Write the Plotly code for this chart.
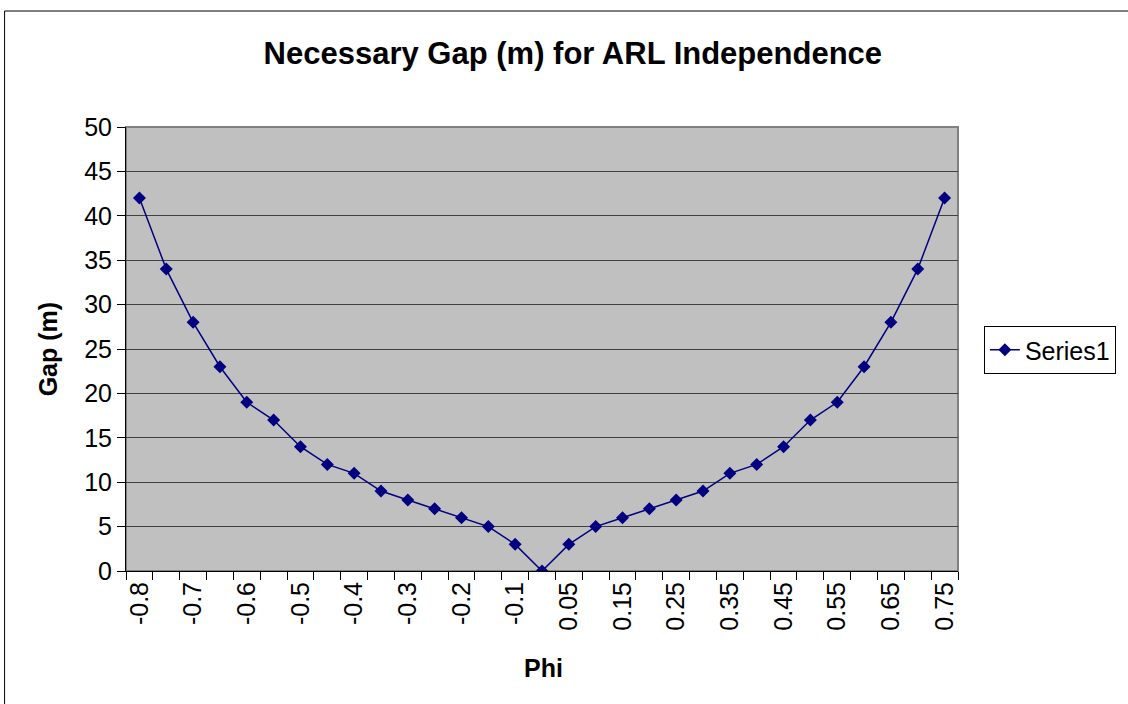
import plotly.graph_objects as go

phi_labels = ["-0.8", "-0.75", "-0.7", "-0.65", "-0.6", "-0.55", "-0.5", "-0.45",
              "-0.4", "-0.35", "-0.3", "-0.25", "-0.2", "-0.15", "-0.1", "0",
              "0.05", "0.1", "0.15", "0.2", "0.25", "0.3", "0.35", "0.4",
              "0.45", "0.5", "0.55", "0.6", "0.65", "0.7", "0.75"]
gap_values = [42, 34, 28, 23, 19, 17, 14, 12, 11, 9, 8, 7, 6, 5, 3, 0,
              3, 5, 6, 7, 8, 9, 11, 12, 14, 17, 19, 23, 28, 34, 42]
y_ticks = [0, 5, 10, 15, 20, 25, 30, 35, 40, 45, 50]

W, H = 1128, 704
L, R, T, B = 126, 962, 127, 571
pw, ph = R - L, B - T

idx = list(range(len(phi_labels)))
shown = idx[::2]

fig = go.Figure()
fig.add_trace(go.Scatter(
    x=idx, y=gap_values, mode="lines+markers", name="Series1",
    line=dict(color="#000080", width=1.5),
    marker=dict(symbol="diamond", size=10, color="#000080"),
))

font = "Liberation Sans, Arial, sans-serif"
FS = 25
fig.update_layout(
    width=W, height=H,
    margin=dict(l=L, r=W - R, t=T, b=H - B),
    paper_bgcolor="white", plot_bgcolor="rgba(0,0,0,0)",
    font=dict(family=font, size=FS, color="black"),
    title=dict(text="<b>Necessary Gap (m) for ARL Independence</b>",
               x=(575 - L) / pw, xref="paper", xanchor="center",
               y=1 - 53 / H, yanchor="middle",
               font=dict(size=31, family=font, color="black")),
    showlegend=True,
    legend=dict(x=(988 - L) / pw, xanchor="left", y=(B - 350) / ph, yanchor="middle",
                bordercolor="black", borderwidth=1, bgcolor="white",
                font=dict(size=FS, family=font)),
    xaxis=dict(
        range=[-0.5, len(idx) - 0.5], showgrid=False, zeroline=False,
        showline=True, linecolor="black", linewidth=1,
        tickmode="array", tickvals=shown, ticktext=[phi_labels[i] for i in shown],
        ticks="", tickangle=-90, tickfont=dict(size=FS),
        minor=dict(tick0=-0.5, dtick=1, ticks="outside", ticklen=8,
                   tickcolor="black", showgrid=False),
    ),
    yaxis=dict(
        range=[0, 50], tickvals=y_ticks, showgrid=True, gridcolor="#404040",
        gridwidth=1, zeroline=False, showline=True, linecolor="black",
        linewidth=1, ticks="outside", ticklen=8, tickcolor="black",
        tickfont=dict(size=FS),
    ),
    annotations=[
        dict(text="<b>Gap (m)</b>", xref="paper", yref="paper",
             x=(48 - L) / pw, y=(B - 349) / ph, textangle=-90,
             showarrow=False, xanchor="center", yanchor="middle",
             font=dict(size=FS, family=font)),
        dict(text="<b>Phi</b>", xref="paper", yref="paper",
             x=(546 - L) / pw, y=(B - 668) / ph,
             showarrow=False, xanchor="center", yanchor="middle",
             font=dict(size=FS, family=font)),
    ],
    shapes=[
        dict(type="rect", xref="paper", yref="paper", x0=0, x1=1, y0=0, y1=1,
             fillcolor="#c0c0c0", line=dict(color="#808080", width=2), layer="below"),
        dict(type="rect", xref="paper", yref="paper",
             x0=(4 - L) / pw, x1=(W + 20 - L) / pw,
             y0=(B - H - 20) / ph, y1=(B - 11) / ph,
             line=dict(color="black", width=1), fillcolor="rgba(0,0,0,0)", layer="above"),
    ],
)

fig.write_html("out.html", config={"displayModeBar": False},
               post_script="document.body.style.margin='0';")
